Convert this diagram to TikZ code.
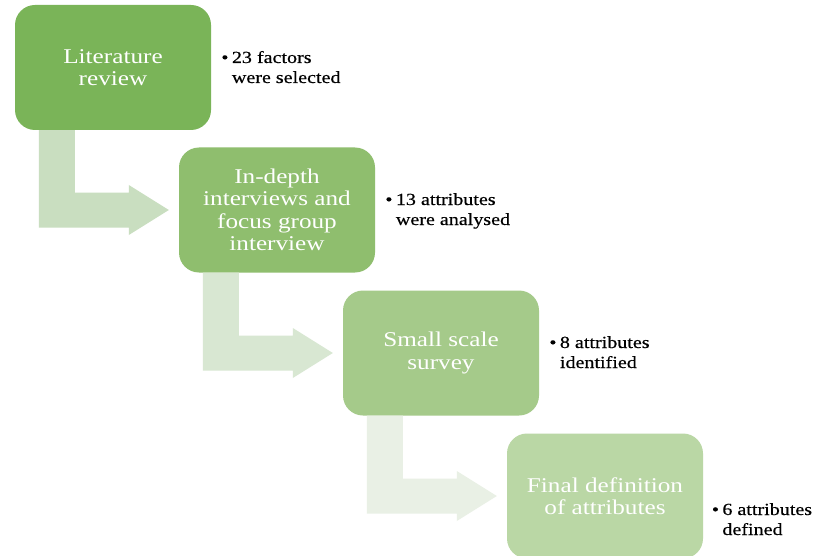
\documentclass[tikz,border=0pt]{standalone}
\usepackage{fontspec}
\setmainfont{Liberation Serif}
\newfontfamily\boxfont[FakeStretch=1.2]{Liberation Serif}
\newfontfamily\notefont[FakeStretch=1.18,FakeBold=0.4]{Liberation Serif}
\usetikzlibrary{calc}

\definecolor{stepA}{RGB}{122,180,88}
\definecolor{stepB}{RGB}{143,190,110}
\definecolor{stepC}{RGB}{165,202,138}
\definecolor{stepD}{RGB}{186,215,165}
\definecolor{flowA}{RGB}{201,222,192}
\definecolor{flowB}{RGB}{216,231,210}
\definecolor{flowC}{RGB}{233,240,229}

\tikzset{
  stepbox/.style={rectangle, rounded corners=20pt, minimum width=196pt,
    minimum height=125pt, inner sep=0pt, align=center, text=white,
    font=\boxfont\fontsize{21}{22.5}\selectfont},
  note/.style={anchor=base west, inner sep=0pt, text=black,
    font=\notefont\fontsize{17}{20}\selectfont},
}

% bent arrow from the underside of one step to the left side of the next
\newcommand{\stepflow}[3]{%
  \coordinate (#1-s) at ($(#1.south west)+(24,0)$);
  \coordinate (#1-t) at ($(#2.west)+(-10,0)$);
  \fill[#3] (#1-s) -- ++(36,0)
    -- ($(#1-s |- #2.west)+(36,-17.5)$)
    -- ($(#1-t)+(-40,-17.5)$) -- ($(#1-t)+(-40,-25)$)
    -- (#1-t)
    -- ($(#1-t)+(-40,25)$) -- ($(#1-t)+(-40,17.5)$)
    -- ($(#1-s |- #2.west)+(0,17.5)$) -- cycle;}

\newcommand{\bulletnote}[2]{%
  \begin{tabular}[t]{@{}l@{\hspace{3.5pt}}l@{}}\textbullet & #1\\ & #2\end{tabular}}

\begin{document}
\begin{tikzpicture}[x=1pt, y=-1pt]
  \useasboundingbox (0,0) rectangle (821,556);
  \clip (0,0) rectangle (821,556);
  \fill[white] (0,0) rectangle (821,556);

  \node[stepbox, fill=stepA] (b1) at (113,67.5) {Literature\\review};
  \node[stepbox, fill=stepB] (b2) at (277,210) {In-depth\\interviews and\\focus group\\interview};
  \node[stepbox, fill=stepC] (b3) at (441,353) {Small scale\\survey};
  \node[stepbox, fill=stepD] (b4) at (605,496) {Final definition\\of attributes};

  \stepflow{b1}{b2}{flowA}
  \stepflow{b2}{b3}{flowB}
  \stepflow{b3}{b4}{flowC}

  \node[note] (n1) at ($(b1.east)+(10,-4.5)$) {\bulletnote{23 factors}{were selected}};
  \node[note] (n2) at ($(b2.east)+(10,-5)$) {\bulletnote{13 attributes}{were analysed}};
  \node[note] (n3) at ($(b3.east)+(10,-5)$) {\bulletnote{8 attributes}{identified}};
  \node[note] (n4) at ($(b4.east)+(8.5,19)$) {\bulletnote{6 attributes}{defined}};
\end{tikzpicture}
\end{document}
